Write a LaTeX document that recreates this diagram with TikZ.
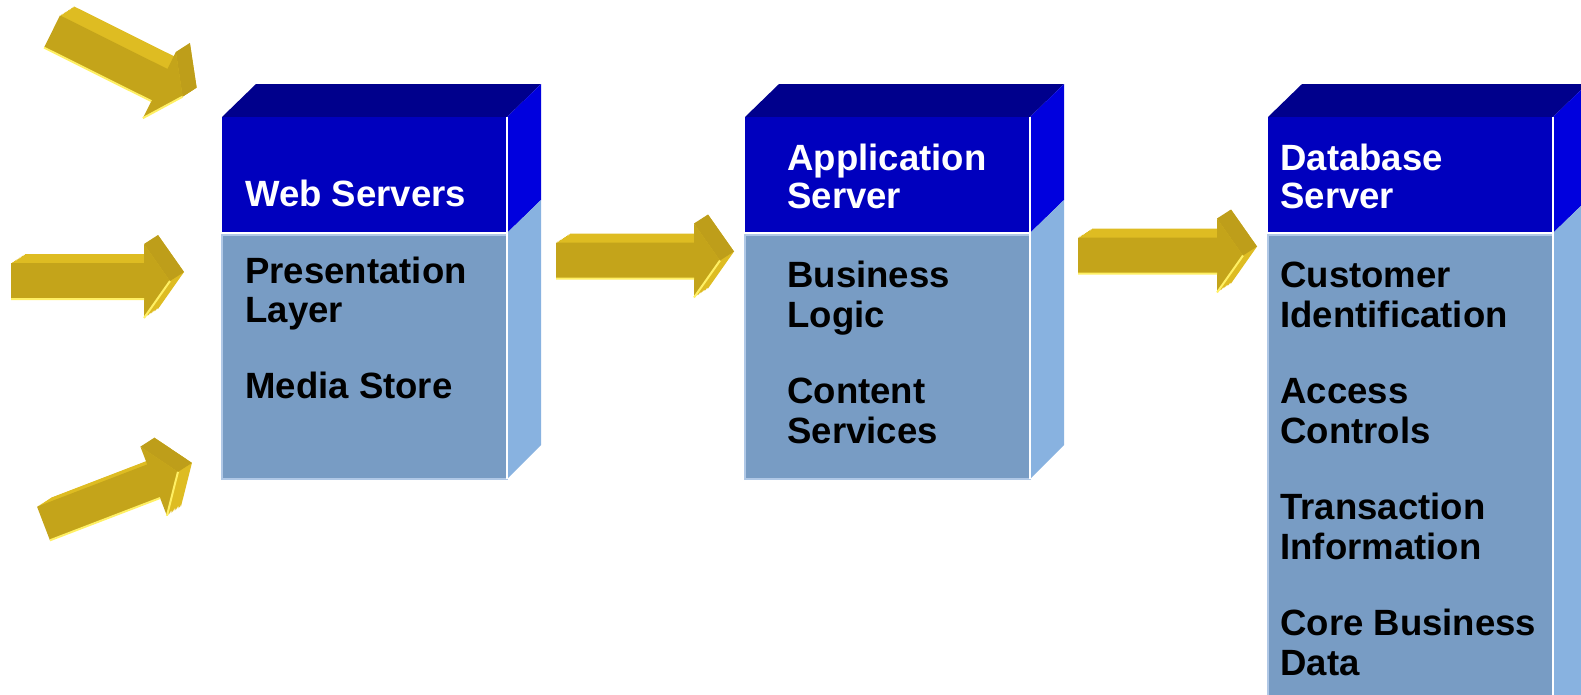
\documentclass[tikz,border=0pt]{standalone}
\usepackage{fontspec}
\setmainfont{Liberation Sans}
\usetikzlibrary{positioning}

\definecolor{frontblue}{RGB}{0,0,190}
\definecolor{topblue}{RGB}{0,0,140}
\definecolor{sideblue}{RGB}{0,0,222}
\definecolor{frontsteel}{RGB}{120,156,196}
\definecolor{sidesteel}{RGB}{136,178,224}
\definecolor{steeledge}{RGB}{176,200,230}
\definecolor{goldfront}{RGB}{196,164,26}
\definecolor{goldtop}{RGB}{222,188,34}
\definecolor{goldside}{RGB}{190,158,26}
\definecolor{goldedge}{RGB}{255,240,100}

\tikzset{
  titletxt/.style={anchor=base west, inner sep=0pt, text=white, font=\bfseries\fontsize{20.8}{22.8}\selectfont},
  bodytxt/.style={anchor=base west, inner sep=0pt, text=black, font=\bfseries\fontsize{20.8}{22.8}\selectfont},
}

% 3D server block: #1 = left of front face, #2 = bottom of front face
\newcommand{\serverbox}[2]{%
  \fill[topblue] (#1,117) -- (#1+34,84) -- (#1+319,84) -- (#1+285,117) -- cycle;
  \fill[sideblue] (#1+285,117) -- (#1+319,84) -- (#1+319,200) -- (#1+285,233) -- cycle;
  \fill[sidesteel] (#1+285,233) -- (#1+319,200) -- (#1+319,#2-34) -- (#1+285,#2) -- cycle;
  \fill[frontblue] (#1,117) rectangle (#1+285,232);
  \fill[frontsteel, draw=steeledge, line width=0.03cm] (#1,235) rectangle (#1+285,#2);
  \draw[white, line width=0.04cm] (#1+285,117) -- (#1+285,#2);
}

% 3D gold arrow: #1,#2 = tail centre, #3 = angle, #4 = shaft length
\newcommand{\goldarrow}[4]{%
  \foreach \i in {10,9,...,1}
    \fill[goldtop, shift={(#1+1.4*\i,#2-0.9*\i)}, rotate=#3]
      (0,-18) -- (#4,-18) -- (#4,-37) -- (#4+26,0) -- (#4,37) -- (#4,18) -- (0,18) -- cycle;
  \begin{scope}[shift={(#1+14,#2-9)}, rotate=#3]
    \coordinate (bh) at (#4,-37);
    \coordinate (bt) at (#4+26,0);
  \end{scope}
  \begin{scope}[shift={(#1,#2)}, rotate=#3]
    \coordinate (fh) at (#4,-37);
    \coordinate (ft) at (#4+26,0);
  \end{scope}
  \fill[goldside] (fh) -- (ft) -- (bt) -- (bh) -- cycle;
  \begin{scope}[shift={(#1,#2)}, rotate=#3]
    \fill[goldfront] (0,-18) -- (#4,-18) -- (#4,-37) -- (#4+26,0) -- (#4,37) -- (#4,18) -- (0,18) -- cycle;
    \draw[goldedge, line width=0.04cm] (0,18) -- (#4,18) (#4,37) -- (#4+26,0);
  \end{scope}
}

\begin{document}
\begin{tikzpicture}[x=0.02cm, y=-0.02cm]
    \useasboundingbox (0,0) rectangle (1581,694);
    \clip (0,0) rectangle (1581,694);

    % Incoming arrows
    \goldarrow{52}{31.5}{-26.5}{120}
    \goldarrow{11}{281}{0}{133}
    \goldarrow{43.5}{523.5}{21}{118}

    % Arrows between servers
    \goldarrow{556}{260.5}{0}{138}
    \goldarrow{1078}{255.5}{0}{139}

    % Web servers
    \serverbox{222}{479}
    \node[titletxt] (web-title) at (245,206) {Web Servers};
    \foreach \yy/\t in {283/Presentation, 322/Layer, 398/Media Store}
        \node[bodytxt] (web-\yy) at (245,\yy) {\t};

    % Application server
    \serverbox{745}{479}
    \node[titletxt] (app-title1) at (787,170) {Application};
    \node[titletxt] (app-title2) at (787,208) {Server};
    \foreach \yy/\t in {287/Business, 327/Logic, 403/Content, 443/Services}
        \node[bodytxt] (app-\yy) at (787,\yy) {\t};

    % Database server
    \serverbox{1268}{730}
    \node[titletxt] (db-title1) at (1280,170) {Database};
    \node[titletxt] (db-title2) at (1280,208) {Server};
    \foreach \yy/\t in {287/Customer, 327/Identification, 403/Access, 443/Controls,
                        519/Transaction, 559/Information, 635/Core Business, 675/Data}
        \node[bodytxt] (db-\yy) at (1280,\yy) {\t};
\end{tikzpicture}
\end{document}
